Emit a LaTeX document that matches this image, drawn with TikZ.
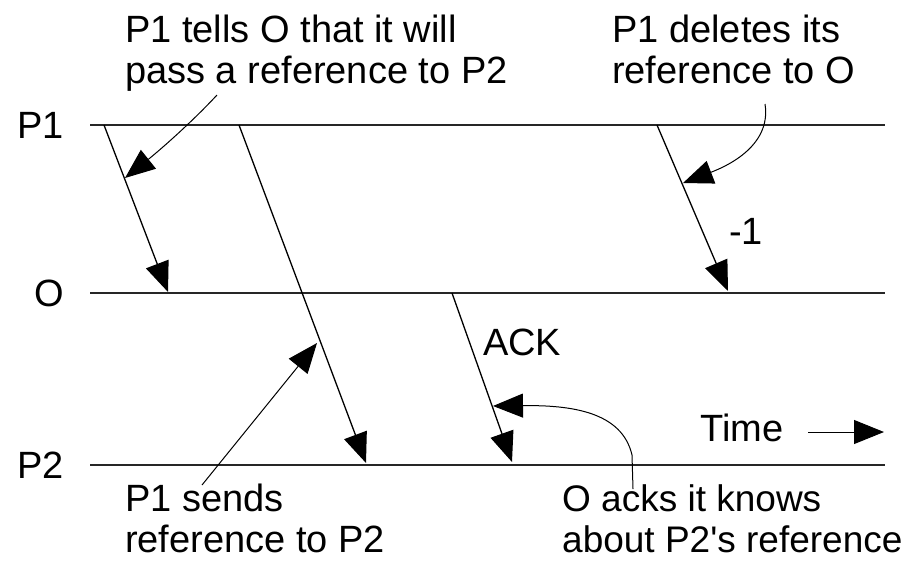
\documentclass[tikz,border=0pt]{standalone}
\usepackage{fontspec}
\setmainfont{Liberation Sans}[Ligatures=TeXOff]
\usetikzlibrary{arrows.meta}
\begin{document}
\begin{tikzpicture}[x=1pt,y=-1pt,
  life/.style={line width=2pt, draw=black!85},
  msg/.style={line width=1.3pt, -{Triangle[length=30pt,width=24pt]}},
  note/.style={line width=1pt, -{Triangle[length=30pt,width=24pt]}},
  txt/.style={font=\fontsize{38}{41}\selectfont, inner sep=0pt, align=left},
  lbl/.style={font=\fontsize{38}{41}\selectfont, inner sep=0pt, anchor=east},
]
\useasboundingbox (0,0) rectangle (915,566);
% lifeline labels
\node[lbl] (lP1) at (64,125) {P1};
\node[lbl] (lO)  at (64,293) {O};
\node[lbl] (lP2) at (64,465) {P2};
% lifelines
\coordinate (p1s) at (90,125); \coordinate (p1e) at (885,125);
\coordinate (os)  at (90,293); \coordinate (oe)  at (885,293);
\coordinate (p2s) at (90,465); \coordinate (p2e) at (885,465);
\draw[life] (p1s) -- (p1e);
\draw[life] (os) -- (oe);
\draw[life] (p2s) -- (p2e);
% messages
\coordinate (m1a) at (104,125); \coordinate (m1b) at (168,292);
\coordinate (m2a) at (239,125); \coordinate (m2b) at (366,463);
\coordinate (m3a) at (657,125); \coordinate (m3b) at (728,291);
\coordinate (m4a) at (452,293); \coordinate (m4b) at (512,462);
\draw[msg] (m1a) -- (m1b);
\draw[msg] (m2a) -- (m2b);
\draw[msg] (m3a) -- (m3b);
\draw[msg] (m4a) -- (m4b);
% message labels
\node[txt, anchor=base west] (minus) at (729,244) {-1};
\node[txt, anchor=base west] (ack) at (483,355) {ACK};
% annotations
\node[txt, anchor=north west] (n1) at (125,15) {P1 tells O that it will\\pass a reference to P2};
\node[txt, anchor=north west] (n2) at (612,15) {P1 deletes its\\reference to O};
\node[txt, anchor=north west] (n3) at (125,484) {P1 sends\\reference to P2};
\node[txt, anchor=north west, font=\fontsize{37}{41}\selectfont] (n4) at (562,484) {O acks it knows\\about P2's reference};
\coordinate (a1s) at (217,95);  \coordinate (a1t) at (125,178);
\coordinate (a2s) at (765,104); \coordinate (a2t) at (683,183);
\coordinate (a3s) at (202,485); \coordinate (a3t) at (317,343);
\coordinate (a4s) at (633,489); \coordinate (a4m) at (632,455); \coordinate (a4t) at (493,406);
\draw[note] (a1s) .. controls (192,122) and (160,150) .. (a1t);
\draw[note] (a2s) .. controls (772,148) and (722,168) .. (a2t);
\draw[note] (a3s) -- (a3t);
\draw[note] (a4s) -- (a4m) .. controls (622,412) and (572,405) .. (a4t);
% time
\node[txt, anchor=base west] (time) at (700,441) {Time};
\coordinate (ts) at (808,432); \coordinate (te) at (884,432);
\draw[note] (ts) -- (te);
\end{tikzpicture}
\end{document}
